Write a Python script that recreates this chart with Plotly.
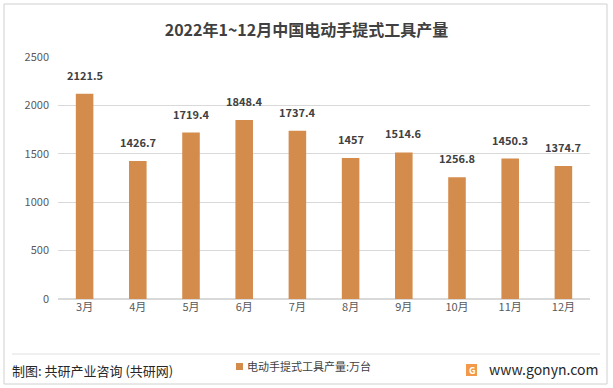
import plotly.graph_objects as go

months = ["3月", "4月", "5月", "6月", "7月", "8月", "9月", "10月", "11月", "12月"]
output = [2121.5, 1426.7, 1719.4, 1848.4, 1737.4, 1457, 1514.6, 1256.8, 1450.3, 1374.7]
labels = ["2121.5", "1426.7", "1719.4", "1848.4", "1737.4", "1457", "1514.6", "1256.8", "1450.3", "1374.7"]
yticks = [0, 500, 1000, 1500, 2000, 2500]
series_name = "电动手提式工具产量:万台"

FONT = "Noto Sans CJK SC, Noto Sans, sans-serif"
BAR = "#D48C4C"
PW, PH = 532, 242  # plot area in px


def px(x):
    return (x - 58) / PW


def py(y):
    return (299 - y) / PH


fig = go.Figure()
fig.add_trace(go.Bar(
    x=months, y=output, name=series_name,
    marker=dict(color=BAR, line=dict(width=0)),
    width=0.33,
))

for m, v, t in zip(months, output, labels):
    fig.add_annotation(x=m, y=v, text="<b>" + t + "</b>", showarrow=False,
                       xanchor="center", yanchor="bottom", yshift=9,
                       font=dict(size=11, color="#404040", family=FONT))

fig.update_layout(
    width=613, height=388,
    margin=dict(l=58, r=23, t=57, b=89, autoexpand=False),
    paper_bgcolor="white", plot_bgcolor="white",
    font=dict(family=FONT, color="#595959", size=11),
    title=dict(text="<b>2022年1~12月中国电动手提式工具产量</b>", x=0.5, xanchor="center",
               y=1 - 30 / 388, yanchor="middle",
               font=dict(size=16, color="#404040", family=FONT)),
    showlegend=False,
    xaxis=dict(showgrid=False, showline=False, ticks="", tickfont=dict(size=11, color="#595959")),
    yaxis=dict(range=[0, 2500], tickvals=yticks, showgrid=True, gridcolor="#D9D9D9", gridwidth=1,
               zeroline=True, zerolinecolor="#D9D9D9", showline=False, ticks="",
               tickfont=dict(size=11, color="#595959"), ticklabelstandoff=8),
)

# outer border and footer separator
fig.add_shape(type="rect", xref="paper", yref="paper",
              x0=px(4), x1=px(607), y0=py(384), y1=py(4),
              line=dict(color="#D0D0D0", width=1), fillcolor="rgba(0,0,0,0)", layer="below")
fig.add_shape(type="line", xref="paper", yref="paper",
              x0=px(12), x1=px(600), y0=py(354), y1=py(354),
              line=dict(color="#E0E0E0", width=1))

# manual legend
fig.add_shape(type="rect", xref="paper", yref="paper",
              x0=px(236), x1=px(243), y0=py(370), y1=py(363),
              line=dict(width=0), fillcolor=BAR)
fig.add_annotation(text=series_name, xref="paper", yref="paper",
                   x=px(245), y=py(366), xanchor="left", yanchor="middle", showarrow=False,
                   font=dict(size=11, color="#404040", family=FONT))

fig.add_annotation(text="制图: 共研产业咨询 (共研网)", xref="paper", yref="paper",
                   x=px(10), y=py(370), xanchor="left", yanchor="middle", showarrow=False,
                   font=dict(size=13, color="#262626", family=FONT))
fig.add_annotation(text="www.gonyn.com", xref="paper", yref="paper",
                   x=px(600), y=py(369), xanchor="right", yanchor="middle", showarrow=False,
                   font=dict(size=14, color="#262626", family=FONT))
# small logo
fig.add_shape(type="rect", xref="paper", yref="paper",
              x0=px(466), x1=px(477), y0=py(376), y1=py(364),
              line=dict(width=0), fillcolor="#F29A4A")
fig.add_annotation(text="<b>G</b>", xref="paper", yref="paper",
                   x=px(471.5), y=py(370), xanchor="center", yanchor="middle", showarrow=False,
                   font=dict(size=9, color="white", family=FONT))

fig.write_html("out.html", config={"displayModeBar": False},
               post_script="document.body.style.margin='0';document.body.style.overflow='hidden';")
